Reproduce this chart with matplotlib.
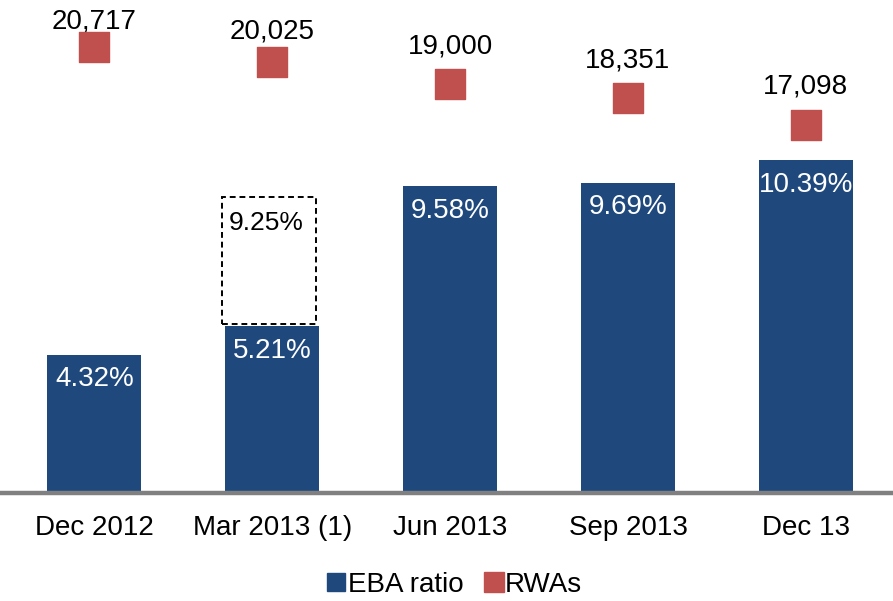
import numpy as np
import matplotlib.pyplot as plt
from matplotlib.patches import Rectangle
from matplotlib.lines import Line2D

plt.rcParams['font.family'] = ['Liberation Sans', 'DejaVu Sans']

# data
periods = ["Dec 2012", "Mar 2013 (1)", "Jun 2013", "Sep 2013", "Dec 13"]
eba_ratio = [4.32, 5.21, 9.58, 9.69, 10.39]
rwas = [20717, 20025, 19000, 18351, 17098]
proforma_idx = 1
proforma_ratio = 9.25

# label lift above the RWA markers (points), first two nudged down in the original
rwa_label_lift = [13.5, 17, 22, 22, 23]

blue = "#1F497D"
red = "#C0504D"

fig = plt.figure(figsize=(8.93, 6.01), dpi=100)
ax = fig.add_axes([0, 1 - 493 / 601, 1, 493 / 601])
x = np.arange(len(periods))
w = 0.53

ax.bar(x, eba_ratio, width=w, color=blue, zorder=2)
for xi, v in zip(x, eba_ratio):
    ax.text(xi, v - 0.36, f"{v:.2f}%", color="white", ha="center", va="top", fontsize=20)

# dashed pro-forma box
b0 = eba_ratio[proforma_idx] + 0.06
ax.add_patch(Rectangle((x[proforma_idx] - w / 2 - 0.017, b0), w, proforma_ratio - b0,
                       fill=False, ls=(0, (3, 2)), lw=1.4, ec="black", zorder=3))
ax.text(x[proforma_idx] - w / 2 + 0.023, proforma_ratio - 0.45, f"{proforma_ratio:.2f}%",
        ha="left", va="top", fontsize=19)

ax.set_xlim(-0.53, 4.49)
ax.set_ylim(0, 15.4)
for s in ["top", "left", "right"]:
    ax.spines[s].set_visible(False)
ax.spines["bottom"].set_color("#808080")
ax.spines["bottom"].set_linewidth(3.2)
ax.set_yticks([])
ax.set_xticks(x)
ax.set_xticklabels(periods, fontsize=20)
ax.tick_params(axis="x", length=0, pad=16)

ax2 = ax.twinx()
ax2.set_ylim(20, 22898)
ax2.axis("off")
ax2.scatter(x, rwas, marker="s", s=467, color=red, zorder=4)
for xi, v, lift in zip(x, rwas, rwa_label_lift):
    ax2.annotate(f"{v:,}", (xi, v), xytext=(0, lift), textcoords="offset points",
                 ha="center", va="baseline", fontsize=20)

handles = [Line2D([], [], marker="s", ls="", color=blue, markersize=13.5),
           Line2D([], [], marker="s", ls="", color=red, markersize=14)]
fig.legend(handles, ["EBA ratio", "RWAs"], loc="center", bbox_to_anchor=(0.508, 0.027),
           ncol=2, frameon=False, fontsize=20, handletextpad=0.0, columnspacing=0.7,
           handlelength=0.8, borderpad=0)

fig.savefig("out.png", dpi=100)
